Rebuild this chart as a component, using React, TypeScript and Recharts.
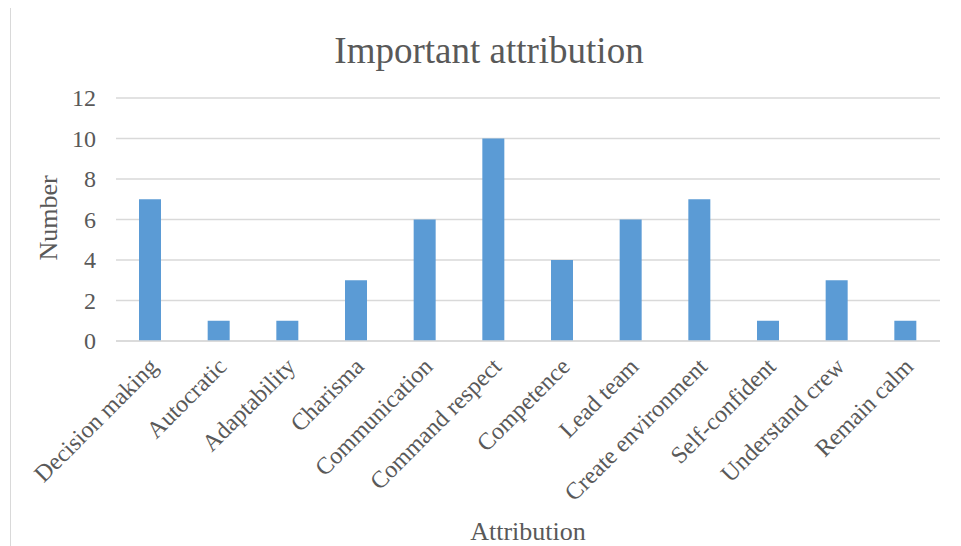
import React from 'react';
import { BarChart, Bar, XAxis, YAxis, CartesianGrid } from 'recharts';

const categories = [
  'Decision making',
  'Autocratic',
  'Adaptability',
  'Charisma',
  'Communication',
  'Command respect',
  'Competence',
  'Lead team',
  'Create environment',
  'Self-confident',
  'Understand crew',
  'Remain calm',
];
const counts = [7, 1, 1, 3, 6, 10, 4, 6, 7, 1, 3, 1];
const yTicks = [0, 2, 4, 6, 8, 10, 12];

const data = categories.map((name, i) => ({ name, value: counts[i] }));

const FONT = "'Liberation Serif', 'Times New Roman', serif";
const TEXT = '#595959';
const GRID = '#D9D9D9';
const BAR = '#5B9BD5';

const XTick = (props: any) => {
  const { x, y, payload } = props;
  const ax = x + 9;
  const ay = y + 27;
  return (
    <text
      x={ax}
      y={ay}
      textAnchor="end"
      fill={TEXT}
      style={{ fontFamily: FONT, fontSize: 24 }}
      transform={`rotate(-45, ${ax}, ${ay})`}
    >
      {payload.value}
    </text>
  );
};

const YTick = (props: any) => {
  const { x, y, payload } = props;
  return (
    <text
      x={x}
      y={y}
      dy="0.34em"
      textAnchor="end"
      fill={TEXT}
      style={{ fontFamily: FONT, fontSize: 24 }}
    >
      {payload.value}
    </text>
  );
};

export default function App() {
  return (
    <div
      style={{
        position: 'relative',
        width: 961,
        height: 546,
        margin: '-8px 0 0 -8px',
        overflow: 'hidden',
        background: '#fff',
        fontFamily: FONT,
      }}
    >
      <div
        style={{
          position: 'absolute',
          left: 10,
          top: 7,
          width: 1200,
          height: 800,
          border: `1px solid ${GRID}`,
          boxSizing: 'border-box',
        }}
      />
      <div style={{ position: 'absolute', left: 0, top: 0 }}>
        <BarChart
          width={961}
          height={546}
          data={data}
          margin={{ top: 98, right: 21, left: 56, bottom: 55 }}
          style={{ fontFamily: FONT }}
        >
          <CartesianGrid vertical={false} stroke={GRID} strokeWidth={1.5} />
          <XAxis
            dataKey="name"
            interval={0}
            height={150}
            tickLine={false}
            tickSize={0}
            tickMargin={0}
            axisLine={{ stroke: GRID, strokeWidth: 1.5 }}
            tick={<XTick />}
          />
          <YAxis
            width={60}
            domain={[0, 12]}
            ticks={yTicks}
            interval={0}
            tickLine={false}
            axisLine={false}
            tickSize={0}
            tickMargin={20}
            tick={<YTick />}
          />
          <Bar dataKey="value" fill={BAR} barSize={22} isAnimationActive={false} />
        </BarChart>
      </div>
      <svg
        width={961}
        height={546}
        style={{ position: 'absolute', left: 0, top: 0, pointerEvents: 'none' }}
      >
        <text x={489} y={63} textAnchor="middle" fill={TEXT} style={{ fontFamily: FONT, fontSize: 37 }}>
          Important attribution
        </text>
        <text
          x={57}
          y={218}
          textAnchor="middle"
          fill={TEXT}
          style={{ fontFamily: FONT, fontSize: 26 }}
          transform="rotate(-90, 57, 218)"
        >
          Number
        </text>
        <text x={528} y={540} textAnchor="middle" fill={TEXT} style={{ fontFamily: FONT, fontSize: 26 }}>
          Attribution
        </text>
      </svg>
    </div>
  );
}
